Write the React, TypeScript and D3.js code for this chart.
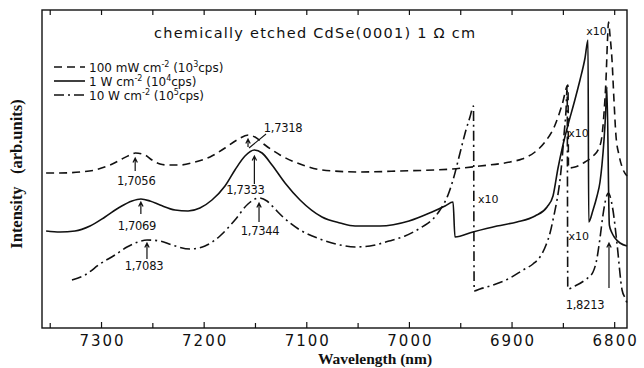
import React from 'react';
import * as d3 from 'd3';

type Pt = [number, number];

// Photoluminescence spectra: [wavelength (Å scale of the axis), intensity (arb.)]
const spectrum100mW: Pt[] = [
  [7354, 155], [7340.5, 155], [7321, 156], [7306.4, 158], [7291.7, 163], [7280.1, 169],
  [7272.3, 173], [7267, 175], [7257.6, 173], [7250.8, 168], [7243, 164], [7236.2, 163],
  [7223.5, 163], [7208.9, 166], [7194.3, 171], [7179.7, 180], [7168, 188], [7157, 193],
  [7150.5, 191], [7140.7, 183], [7126.1, 173], [7106.6, 164], [7085.2, 158], [7048.2, 156],
  [7009.2, 157], [6958.5, 159], [6931.2, 162], [6902, 166], [6890.3, 169], [6877.6, 176],
  [6867.9, 186], [6858.1, 203], [6851.3, 223], [6845.5, 243], [6845, 160], [6838.7, 161],
  [6828.9, 166], [6821.1, 172], [6815.3, 180], [6812.4, 192], [6810.4, 215], [6808.4, 250],
  [6807, 288], [6806, 306], [6804.6, 293], [6802.6, 268], [6800.7, 228], [6798.8, 193],
  [6795.8, 173], [6792.8, 161], [6788, 152],
];

const spectrum1W: Pt[] = [
  [7354, 97], [7340.5, 96], [7325.8, 97], [7311.2, 102], [7296.6, 111], [7282, 121],
  [7270.3, 127], [7261.6, 129], [7252.8, 127], [7243, 123], [7228.4, 118], [7215.7, 117],
  [7204.1, 120], [7192.4, 128], [7179.7, 142], [7170, 158], [7160.2, 172], [7151.1, 178],
  [7143.6, 175], [7133.9, 163], [7121.2, 145], [7106.6, 128], [7085.2, 111], [7067.6, 105],
  [7053, 102], [7028.7, 102], [7000.4, 107], [6978, 116], [6965.3, 122], [6957.5, 126],
  [6955.6, 91], [6938.1, 96], [6914.7, 102], [6895.2, 106], [6877.6, 112], [6865.9, 121],
  [6860.1, 132], [6855.2, 160], [6850.4, 183], [6845.5, 203], [6839.6, 225], [6833.8, 248],
  [6828.9, 270], [6826, 288], [6825.3, 106], [6821.1, 118], [6817.2, 132], [6814.3, 146],
  [6812.4, 163], [6810.4, 188], [6808.9, 213], [6807.6, 241], [6805.2, 103], [6802.6, 95],
  [6799.7, 90], [6794.8, 85], [6788, 82],
];

const spectrum10W: Pt[] = [
  [7328.8, 48], [7316.1, 53], [7301.5, 64], [7286.9, 73], [7275.2, 81], [7264.5, 86],
  [7255.7, 88], [7243, 87], [7231.3, 83], [7213.8, 79], [7199.2, 82], [7184.6, 92],
  [7170, 108], [7157.3, 124], [7146.5, 130], [7138.8, 127], [7131, 119], [7123.2, 111],
  [7106.6, 98], [7087.1, 89], [7067.6, 83], [7053, 81], [7038.4, 82], [7019.9, 87],
  [7004.3, 92], [6987.8, 101], [6978, 108], [6970.2, 118], [6962.4, 133], [6957.5, 148],
  [6950.7, 175], [6944.9, 198], [6941, 211], [6937.6, 222], [6936.9, 37], [6931.2, 39],
  [6918.6, 43], [6902, 50], [6889.3, 58], [6879.6, 64], [6872.8, 71], [6866.9, 83],
  [6863, 95], [6859.1, 113], [6856.2, 128], [6853.3, 148], [6851.3, 168], [6849.4, 193],
  [6847.4, 218], [6846.3, 242], [6845.7, 39], [6838.7, 42], [6828.9, 48], [6821.1, 56],
  [6817.2, 70], [6814.3, 90], [6811.4, 113], [6808.4, 130], [6806, 135], [6804.6, 132],
  [6801.7, 118], [6797.8, 85], [6792.8, 38], [6789.9, 30], [6788, 25],
];

const majorTicks = [7300, 7200, 7100, 7000, 6900, 6800];
const allTicks = [7350, 7300, 7250, 7200, 7150, 7100, 7050, 7000, 6950, 6900, 6850, 6800];

const legendLabels = [
  { power: '100 mW cm', exp: '3' },
  { power: '1 W cm', exp: '4' },
  { power: '10 W cm', exp: '5' },
];

// Peak energies in eV
const peakEnergies = [1.7056, 1.7069, 1.7083, 1.7318, 1.7333, 1.7344, 1.8213];

// Wavelength (Å, in air) of a photon energy in eV
const toWavelength = (ev: number) => 12398.42 / ev / 1.00028;
const formatEv = (ev: number) => ev.toFixed(4).replace('.', ',');

// Where each peak label and its arrow sit (pixels)
const peakLayout: Record<string, { head: number; tail: number; ly: number; dx: number; leader?: boolean }> = {
  '1.7056': { head: 158, tail: 171, ly: 181, dx: 1 },
  '1.7069': { head: 202, tail: 214, ly: 226, dx: -4 },
  '1.7083': { head: 243, tail: 259, ly: 266, dx: -3 },
  '1.7318': { head: 139, tail: 147, ly: 128, dx: 35, leader: true },
  '1.7333': { head: 156, tail: 184, ly: 190, dx: -9 },
  '1.7344': { head: 203, tail: 222, ly: 231, dx: 1 },
  '1.8213': { head: 243, tail: 288, ly: 305, dx: -24 },
};

// Scale-change markers: wavelength of the step, with label placement
const scaleSteps = [
  { at: 6936.9, dx: 14, y: 200 },
  { at: 6845, dx: 10, y: 134 },
  { at: 6845.7, dx: 11, y: 237 },
  { at: 6806, dx: -12, y: 32 },
];

const plot = { left: 42, right: 627, top: 10, bottom: 328 };

export default function App() {
  const x = d3.scaleLinear().domain([7358, 6788]).range([plot.left, plot.right]);
  const y = d3.scaleLinear().domain([0, 318]).range([plot.bottom, plot.top]);
  const line = d3.line<Pt>().x(d => x(d[0])).y(d => y(d[1])).curve(d3.curveMonotoneX);

  const sans = '"DejaVu Sans", sans-serif';
  const serif = '"Liberation Serif", "Times New Roman", serif';
  const dashed = '8,5';
  const dashDot = '10,4,2,4';
  const sw = 1.6;

  const arrow = (cx: number, head: number, tail: number) =>
    `M${cx},${tail}V${head}M${cx - 2.2},${head + 4.5}L${cx},${head}L${cx + 2.2},${head + 4.5}`;

  const series = [
    { data: spectrum100mW, dash: dashed },
    { data: spectrum1W, dash: undefined },
    { data: spectrum10W, dash: dashDot },
  ];

  return (
    <svg width={644} height={368} viewBox="0 0 644 368"
      style={{ position: 'fixed', left: 0, top: 0, background: '#fff' }}>
      <rect x={0} y={0} width={644} height={368} fill="#fff" />
      {/* frame */}
      <rect x={plot.left} y={plot.top} width={plot.right - plot.left} height={plot.bottom - plot.top}
        fill="none" stroke="#111" strokeWidth={1.4} />
      {allTicks.map(t => (
        <g key={t}>
          <line x1={x(t)} x2={x(t)} y1={plot.bottom} y2={plot.bottom - (t % 100 === 0 ? 6 : 5)} stroke="#111" strokeWidth={1.2} />
          <line x1={x(t)} x2={x(t)} y1={plot.top} y2={plot.top + 5} stroke="#111" strokeWidth={1.2} />
        </g>
      ))}
      {majorTicks.map(t => (
        <text key={t} x={x(t) + 1} y={346} textAnchor="middle" fontFamily={sans} fontSize={15}
          letterSpacing={2} fill="#111">{t}</text>
      ))}
      <text x={375} y={364} textAnchor="middle" fontFamily={serif} fontWeight="bold" fontSize={15.5} fill="#111">
        Wavelength (nm)
      </text>
      <text transform="translate(22,174) rotate(-90)" textAnchor="middle" fontFamily={serif}
        fontWeight="bold" fontSize={16.5} fill="#111" style={{ whiteSpace: 'pre' }}>
        {'Intensity   (arb.units)'}
      </text>

      {/* title */}
      <text x={154} y={38} fontFamily={sans} fontSize={14.5} textLength={321} lengthAdjust="spacing" fill="#111">
        chemically etched CdSe(0001) 1 Ω cm
      </text>

      {/* legend */}
      {legendLabels.map((l, i) => {
        const ly = 67 + i * 14;
        return (
          <g key={l.power}>
            <line x1={54} x2={85} y1={ly} y2={ly} stroke="#111" strokeWidth={sw}
              strokeDasharray={series[i].dash} />
            <text x={89} y={ly + 4.5} fontFamily={sans} fontSize={12} fill="#111">
              {l.power}
              <tspan fontSize={8} dy={-5}>-2</tspan>
              <tspan dy={5}> (10</tspan>
              <tspan fontSize={8} dy={-5}>{l.exp}</tspan>
              <tspan dy={5}>cps)</tspan>
            </text>
          </g>
        );
      })}

      {/* spectra */}
      {series.map((s, i) => (
        <path key={i} d={line(s.data) ?? ''} fill="none" stroke="#111" strokeWidth={sw}
          strokeDasharray={s.dash} strokeLinejoin="round" />
      ))}

      {/* peak markers */}
      {peakEnergies.map(ev => {
        const key = ev.toFixed(4);
        const L = peakLayout[key];
        const cx = x(toWavelength(ev));
        return (
          <g key={key}>
            <path d={arrow(cx, L.head, L.tail)} fill="none" stroke="#111" strokeWidth={1.2} />
            {L.leader && (
              <line x1={cx + 18} y1={134} x2={cx + 1} y2={L.tail + 1} stroke="#111" strokeWidth={1.1} />
            )}
            <text x={cx + L.dx} y={L.ly} textAnchor="middle" dominantBaseline="middle"
              fontFamily={sans} fontSize={11.5} letterSpacing={-0.3} fill="#111">
              {formatEv(ev)}
            </text>
          </g>
        );
      })}

      {/* scale-change labels */}
      {scaleSteps.map((s, i) => (
        <text key={i} x={x(s.at) + s.dx} y={s.y} textAnchor="middle" dominantBaseline="middle"
          fontFamily={sans} fontSize={11} fill="#111">x10</text>
      ))}
    </svg>
  );
}
